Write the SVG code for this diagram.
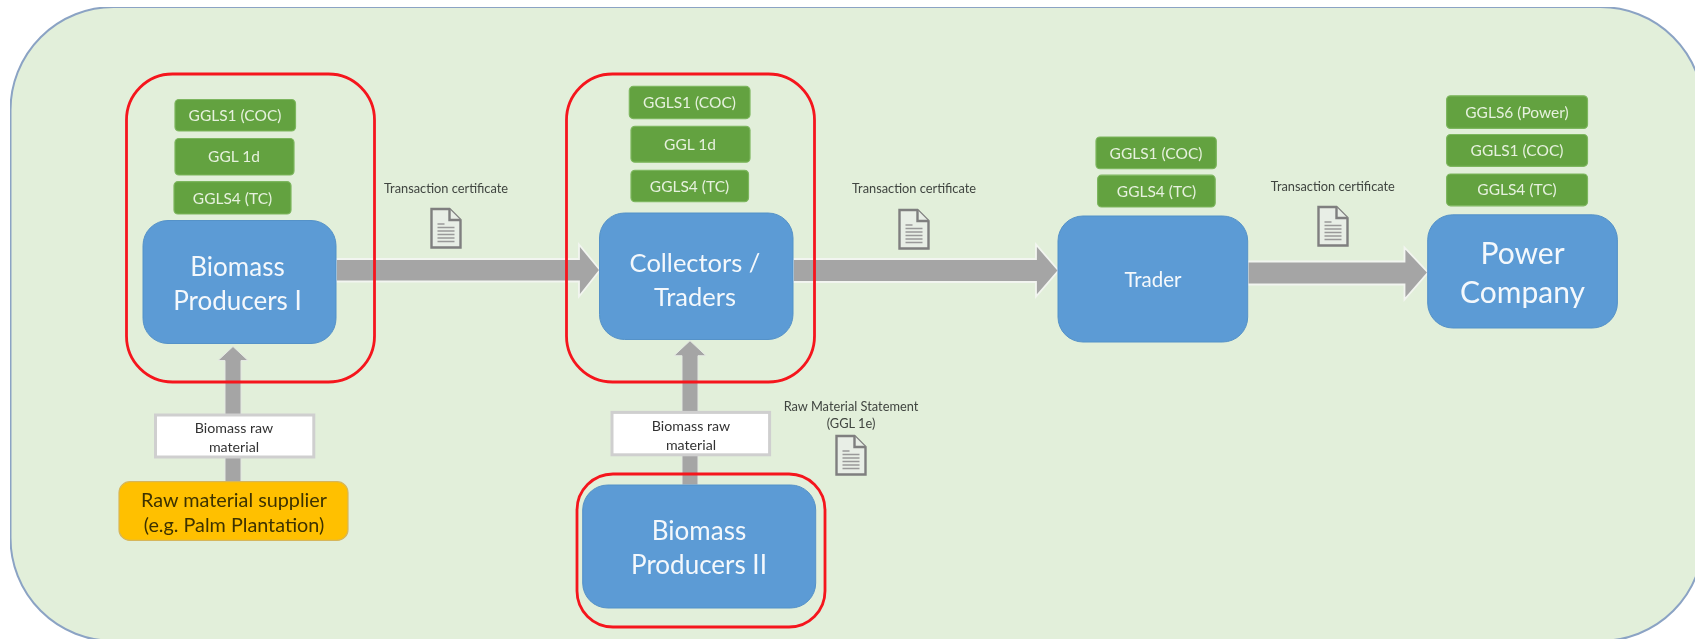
<svg xmlns="http://www.w3.org/2000/svg" width="1695" height="639" viewBox="0 0 1695 639">
<style>
text{font-family:Lato,"Open Sans","Liberation Sans",sans-serif;text-anchor:middle;dominant-baseline:central}
.panel{fill:#E2EFDA;stroke:#8BA3C4;stroke-width:2}
.red{fill:none;stroke:#F5141E;stroke-width:2.8}
.blue{fill:#5B9BD5;stroke:#5592C8;stroke-width:1}
.blue text{fill:#F4F8FC;stroke:none}
.chip{fill:#63A23F;stroke:#7DB65E;stroke-width:1.2}
.ct{fill:#E6F1DE;font-size:15.5px}
.arrow{fill:#A5A5A5;stroke:#F2F5F0;stroke-width:1.8}
.varrow{fill:#A5A5A5;stroke:#E4E8E2;stroke-width:1}
.lab{fill:#fff;stroke:#CFCFCF;stroke-width:3}
.lt{fill:#333;font-size:14.2px}
.cap{fill:#404540;font-size:12.8px}
.doc{fill:#E8EEE6;stroke:#7F7F7F;stroke-width:2.4}
.docl{stroke:#999;stroke-width:1.7;fill:none}
.ys{font-size:19.8px;fill:#3E3200}
</style>
<defs>
<filter id="soft" x="0" y="0" width="100%" height="100%"><feGaussianBlur stdDeviation="0.55"/></filter>
<g id="docicon">
<path class="doc" d="M1 1H19L30 12V39.500H1Z"/>
<path class="doc" d="M19 1V12H30"/>
<path class="docl" d="M7 16H14M7 19.500H24M7 23H24M7 26.500H24M7 30H24M7 33.500H24"/>
</g>
</defs>
<rect width="1695" height="639" fill="#fff"/>
<g filter="url(#soft)">
<rect id="panel" class="panel" x="10.500" y="7" width="1693" height="634" rx="103" ry="103"/>

<g id="connectors">
<path class="arrow" d="M336 259H579V244.500L600 270L579 296.500V281.500H336Z"/>
<path class="arrow" d="M793 259H1036V244.500L1058.500 270.500L1036 296.500V282H793Z"/>
<path class="arrow" d="M1247.700 261.500H1404.500V247.500L1428 272.500L1404.500 299.500V284.500H1247.700Z"/>
<path class="varrow" d="M225 481.700V360.500H218L233 346.500L248 360.500H241V481.700Z"/>
<path class="varrow" d="M682 485V355.700H674L690 340.700L706 355.700H698V485Z"/>
</g>

<g id="group-producers-1"><rect class="red" x="126.500" y="74" width="248" height="308" rx="46" ry="46"/></g>
<g id="group-collectors"><rect class="red" x="566.500" y="74" width="248" height="308" rx="46" ry="46"/></g>
<g id="group-producers-2"><rect class="red" x="577" y="474" width="248" height="153" rx="36" ry="36"/></g>

<g id="biomass-producers-1" class="blue">
<rect x="143" y="220.500" width="193" height="123" rx="25"/>
<text x="237.500" y="266" font-size="26">Biomass</text>
<text x="237.500" y="300" font-size="26">Producers I</text>
</g>
<g id="collectors-traders" class="blue">
<rect x="599.500" y="213" width="193.500" height="126.500" rx="25"/>
<text x="695" y="262" font-size="25.500">Collectors /</text>
<text x="695" y="296" font-size="25.500">Traders</text>
</g>
<g id="biomass-producers-2" class="blue">
<rect x="582.700" y="485" width="233" height="123" rx="25"/>
<text x="699" y="530" font-size="26">Biomass</text>
<text x="699" y="563.500" font-size="26">Producers II</text>
</g>
<g id="trader" class="blue">
<rect x="1058" y="216" width="189.700" height="126" rx="25"/>
<text x="1153" y="279" font-size="20.500">Trader</text>
</g>
<g id="power-company" class="blue">
<rect x="1427.700" y="214.800" width="189.700" height="113.200" rx="25"/>
<text x="1522.500" y="252" font-size="30">Power</text>
<text x="1522.500" y="291" font-size="30">Company</text>
</g>

<g id="chip-p1-ggls1"><rect class="chip" x="175" y="99.500" width="120.500" height="31.500" rx="4"/><text class="ct" x="235" y="115">GGLS1 (COC)</text></g>
<g id="chip-p1-ggl1d"><rect class="chip" x="175" y="138.500" width="119" height="36.500" rx="4"/><text class="ct" x="234" y="156">GGL 1d</text></g>
<g id="chip-p1-ggls4"><rect class="chip" x="174" y="181.700" width="117" height="32.300" rx="4"/><text class="ct" x="232.500" y="197.500">GGLS4 (TC)</text></g>
<g id="chip-c-ggls1"><rect class="chip" x="629.300" y="86.400" width="120.700" height="32.200" rx="4"/><text class="ct" x="689.500" y="102">GGLS1 (COC)</text></g>
<g id="chip-c-ggl1d"><rect class="chip" x="631" y="126.300" width="119" height="35.900" rx="4"/><text class="ct" x="690" y="144">GGL 1d</text></g>
<g id="chip-c-ggls4"><rect class="chip" x="631" y="170.300" width="117.500" height="31.400" rx="4"/><text class="ct" x="689.500" y="186">GGLS4 (TC)</text></g>
<g id="chip-t-ggls1"><rect class="chip" x="1096" y="137" width="120.300" height="31.700" rx="4"/><text class="ct" x="1156" y="152.500">GGLS1 (COC)</text></g>
<g id="chip-t-ggls4"><rect class="chip" x="1097.600" y="175.200" width="117.600" height="31.800" rx="4"/><text class="ct" x="1156.500" y="190.500">GGLS4 (TC)</text></g>
<g id="chip-pw-ggls6"><rect class="chip" x="1446.600" y="95.800" width="140.900" height="32.600" rx="4"/><text class="ct" x="1517" y="112">GGLS6 (Power)</text></g>
<g id="chip-pw-ggls1"><rect class="chip" x="1446.600" y="134.500" width="140.900" height="31.800" rx="4"/><text class="ct" x="1517" y="150">GGLS1 (COC)</text></g>
<g id="chip-pw-ggls4"><rect class="chip" x="1446.600" y="174" width="140.900" height="31.800" rx="4"/><text class="ct" x="1517" y="189">GGLS4 (TC)</text></g>

<g id="raw-material-supplier">
<rect x="119" y="481.700" width="229" height="58.700" rx="11" fill="#FFC000" stroke="#D6B65A" stroke-width="1.200"/>
<text class="ys" x="234" y="498.500">Raw material supplier</text>
<text class="ys" x="234" y="523.500">(e.g. Palm Plantation)</text>
</g>

<g id="label-raw-1"><rect class="lab" x="155.500" y="415" width="158.300" height="42"/><text class="lt" x="234" y="427.500">Biomass raw</text><text class="lt" x="234" y="446">material</text></g>
<g id="label-raw-2"><rect class="lab" x="612" y="412.400" width="157.600" height="42.400"/><text class="lt" x="691" y="425.500">Biomass raw</text><text class="lt" x="691" y="444">material</text></g>

<g id="tc-1"><text class="cap" x="446" y="188.200">Transaction certificate</text><use href="#docicon" x="430.500" y="208"/></g>
<g id="tc-2"><text class="cap" x="914" y="188.200">Transaction certificate</text><use href="#docicon" x="898.500" y="209"/></g>
<g id="tc-3"><text class="cap" x="1332.800" y="186">Transaction certificate</text><use href="#docicon" x="1317.500" y="206"/></g>
<g id="rms"><text class="cap" x="851" y="405.500">Raw Material Statement</text><text class="cap" x="851" y="423">(GGL 1e)</text><use href="#docicon" x="835.500" y="435"/></g>
</g>
</svg>
